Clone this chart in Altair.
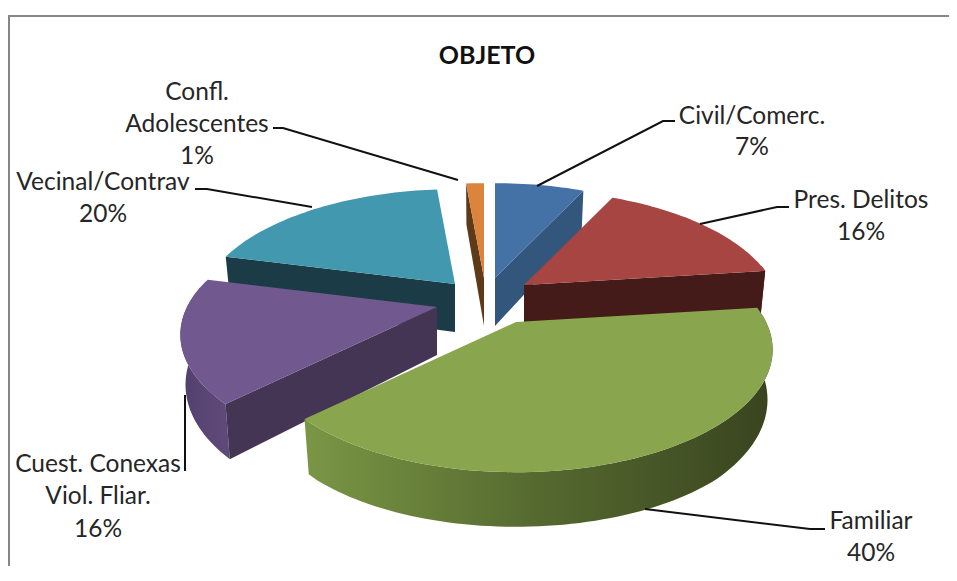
import math
import altair as alt
import pandas as pd

# Chart values
CATEGORIES = ["Civil/Comerc.", "Pres. Delitos", "Familiar", "Cuest. Conexas Viol. Fliar.", "Vecinal/Contrav", "Confl. Adolescentes"]
SHARES = [7, 16, 39.6, 16.4, 19.6, 1.4]
TOP_COLORS = ["#4472a6", "#a64542", "#89a54e", "#71588f", "#4198af", "#db843d"]
CUT_COLORS = ["#33567d", "#451b19", "#3a451f", "#453555", "#1b3c46", "#5e3a19"]
WALL_LEFT = ["#33567d", "#451b19", "#7a9645", "#4f3f6b", "#1b3c46", "#5e3a19"]
WALL_MID = ["#33567d", "#451b19", "#55692f", "#5a4675", "#1b3c46", "#5e3a19"]
WALL_RIGHT = ["#33567d", "#451b19", "#39441f", "#5f4a7a", "#1b3c46", "#5e3a19"]
TITLE = ["OBJETO"]
LABEL_LINES = [
    ["Civil/Comerc.", "7%"],
    ["Pres. Delitos", "16%"],
    ["Familiar", "40%"],
    ["Cuest. Conexas", "Viol. Fliar.", "16%"],
    ["Vecinal/Contrav", "20%"],
    ["Confl.", "Adolescentes", "1%"],
]

# Layout (image pixels)
APEX = [(495, 278), (524, 285), (516, 322), (437, 307), (455, 284), (484, 278)]
R, K, P, H, TAPER = 250.0, 0.465, 0.226, 48.0, 0.98
LABEL_POS = [(752, 116.5, 31), (861, 200.5, 32), (871, 522, 32), (98, 464.5, 32.5), (103, 182.5, 32), (197, 92.5, 32)]
LEADERS = [
    [(675, 121), (663, 121), (537, 186)],
    [(789, 207), (777, 207), (700, 224)],
    [(825, 529), (810, 529), (645, 509)],
    [(185, 471), (185, 395)],
    [(195, 189), (207, 189), (312, 207)],
    [(273, 128), (283, 128), (458, 180)],
]
FONT = "Lato"
W, H_PAGE = 941, 558
X = alt.X("x:Q", axis=None, scale=alt.Scale(domain=[8, 8 + W]))
Y = alt.Y("y:Q", axis=None, scale=alt.Scale(domain=[8, 8 + H_PAGE], reverse=True))


def project(apex, deg, bottom=False, radius=R):
    t = math.radians(deg)
    s = 1 / (1 + P * math.cos(t) * radius / R)
    dx = radius * math.sin(t) * s
    dy = -radius * K * math.cos(t) * s
    if bottom:
        return apex[0] + dx * TAPER, apex[1] + dy * TAPER + H * min(s, 1.2)
    return apex[0] + dx, apex[1] + dy


def poly(points, **mark):
    df = pd.DataFrame([{"x": p[0], "y": p[1], "i": i} for i, p in enumerate(points)])
    return alt.Chart(df).mark_line(strokeWidth=0, **mark).encode(x=X, y=Y, order="i:Q")


def arc(a, b):
    n = max(2, int(abs(b - a) / 1.5))
    return [a + (b - a) * i / n for i in range(n + 1)]


faces = {}
start = 0.0
for idx, share in enumerate(SHARES):
    end = start + share * 3.6
    apex = APEX[idx]
    layers = []
    lo, hi = max(start, 80), min(end, 280)
    if hi > lo:
        pts = [project(apex, d) for d in arc(lo, hi)] + [project(apex, d, True) for d in arc(hi, lo)]
        grad = alt.Gradient(
            gradient="linear", x1=0, x2=1, y1=0, y2=0,
            stops=[alt.GradientStop(color=WALL_LEFT[idx], offset=0),
                   alt.GradientStop(color=WALL_MID[idx], offset=0.5),
                   alt.GradientStop(color=WALL_RIGHT[idx], offset=1)],
        )
        layers.append(poly(pts, fill=grad))
    for deg, visible in ((start, math.sin(math.radians(start)) < -1e-6),
                         (end, math.sin(math.radians(end)) > 1e-6)):
        if visible:
            a_top = project(apex, 0, radius=0)
            a_bot = project(apex, 0, True, radius=0)
            layers.append(poly([a_top, project(apex, deg), project(apex, deg, True), a_bot], fill=CUT_COLORS[idx]))
    top = [project(apex, 0, radius=0)] + [project(apex, d) for d in arc(start, end)]
    layers.append(poly(top, fill=TOP_COLORS[idx]))
    faces[idx] = layers
    start = end

paint_order = [5, 0, 4, 1, 3, 2]
all_layers = []
for idx in paint_order:
    all_layers += faces[idx]

# Frame
frame_h = pd.DataFrame({"x": [8, 8 + W], "y": [16, 16]})
frame_v = pd.DataFrame({"x": [9, 9], "y": [15, 8 + H_PAGE]})
for f in (frame_h, frame_v):
    all_layers.append(alt.Chart(f).mark_line(color="#868686", strokeWidth=2).encode(x=X, y=Y))

# Leader lines
for pts in LEADERS:
    df = pd.DataFrame([{"x": p[0], "y": p[1], "i": i} for i, p in enumerate(pts)])
    all_layers.append(alt.Chart(df).mark_line(color="#111111", strokeWidth=2).encode(x=X, y=Y, order="i:Q"))

# Labels
rows = []
for lines, (lx, ly, gap) in zip(LABEL_LINES, LABEL_POS):
    for j, line in enumerate(lines):
        rows.append({"x": lx, "y": ly + j * gap, "t": line})
all_layers.append(
    alt.Chart(pd.DataFrame(rows)).mark_text(font=FONT, fontSize=24.5, color="#262626", align="center", baseline="middle")
    .encode(x=X, y=Y, text="t:N")
)
all_layers.append(
    alt.Chart(pd.DataFrame({"x": [487], "y": [56], "t": TITLE}))
    .mark_text(font=FONT, fontSize=25, fontWeight="bold", color="#111111", align="center", baseline="middle")
    .encode(x=X, y=Y, text="t:N")
)

chart = alt.layer(*all_layers).properties(
    width=W, height=H_PAGE, padding=0, background="white",
    autosize=alt.AutoSizeParams(type="none", contains="padding"),
).configure_view(stroke=None)
chart.save("out.html", embed_options={"renderer": "svg", "actions": False})
